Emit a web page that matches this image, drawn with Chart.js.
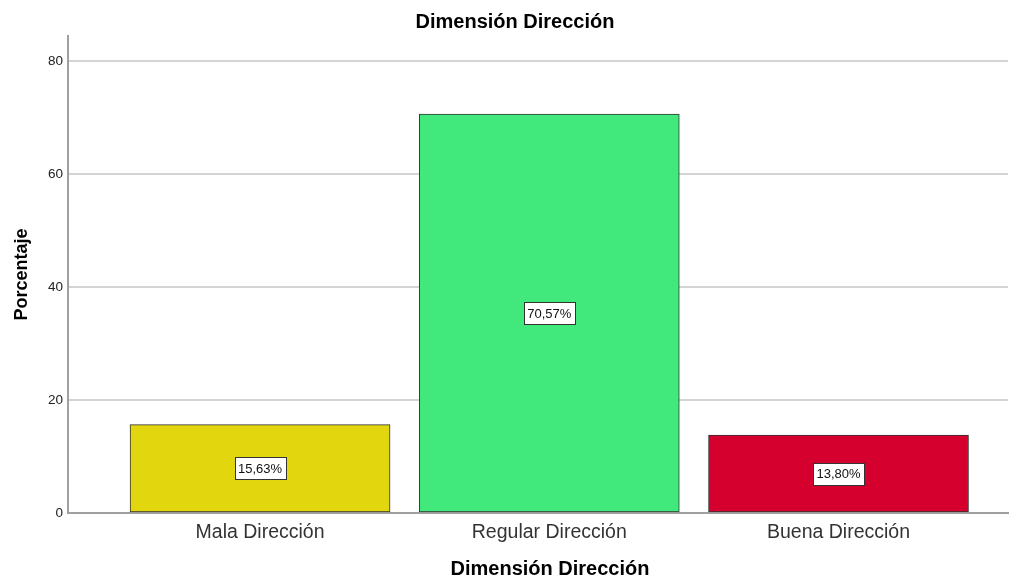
<!DOCTYPE html>
<html>
<head>
<meta charset="utf-8">
<script src="https://cdn.jsdelivr.net/npm/chart.js@4.4.0/dist/chart.umd.min.js"></script>
<style>
  body { margin: 0; background: #fff; }
  canvas { display: block; }
</style>
</head>
<body>
<canvas id="chart" width="1019" height="580"></canvas>
<script>
let categories = ['Mala Dirección', 'Regular Dirección', 'Buena Dirección'];
let percentages = [15.63, 70.57, 13.80];
let barColors = ['#e2d60e', '#41e97d', '#d6002f'];
let yTicks = [0, 20, 40, 60, 80];
let chartTitle = 'Dimensión Dirección';
let xTitle = 'Dimensión Dirección';
let yTitle = 'Porcentaje';

let ctx = document.getElementById('chart').getContext('2d');
let fontFamily = "'Liberation Sans', Arial, sans-serif";

// draws the white value boxes in the middle of every bar
let valueLabels = {
    id: 'valueLabels',
    afterDatasetsDraw(chart) {
        let c = chart.ctx;
        let meta = chart.getDatasetMeta(0);
        c.save();
        c.font = '13px ' + fontFamily;
        c.textAlign = 'center';
        c.textBaseline = 'middle';
        meta.data.forEach(function (bar, i) {
            let text = percentages[i].toFixed(2).replace('.', ',') + '%';
            let cx = bar.x;
            let cy = (bar.y + bar.base) / 2;
            let w = Math.round(c.measureText(text).width + 7);
            let h = 22;
            let left = Math.round(cx - w / 2) + 0.5;
            let top = Math.round(cy - h / 2) + 0.5;
            c.fillStyle = '#ffffff';
            c.fillRect(left, top, w, h);
            c.strokeStyle = '#333333';
            c.lineWidth = 1;
            c.strokeRect(left, top, w, h);
            c.fillStyle = '#111111';
            c.fillText(text, cx, cy + 1);
        });
        c.restore();
    }
};

// the reference centres the title on the whole picture, and the x title a bit right of the plot centre
let titles = {
    id: 'titles',
    afterLayout(chart) {
        if (chart.titleBlock) {
            chart.titleBlock.left += 11;
            chart.titleBlock.right += 11;
        }
    },
    afterDraw(chart) {
        let c = chart.ctx;
        let area = chart.chartArea;
        c.save();
        c.font = 'bold 20px ' + fontFamily;
        c.fillStyle = '#000000';
        c.textAlign = 'center';
        c.textBaseline = 'alphabetic';
        c.fillText(xTitle, (area.left + area.right) / 2 + 12, 575);
        c.restore();
    }
};

let myChart = new Chart(ctx, {
    type: 'bar',
    data: {
        datasets: [{
            data: percentages.map(function (v, i) { return { x: i, y: v }; }),
            backgroundColor: barColors,
            borderColor: '#333333',
            borderWidth: 1,
            borderSkipped: false,
            barThickness: 260
        }]
    },
    options: {
        responsive: false,
        animation: false,
        layout: { padding: { left: 0, right: 11, top: 0, bottom: 0 }, autoPadding: false },
        plugins: {
            legend: { display: false },
            tooltip: { enabled: false },
            title: {
                display: true,
                text: chartTitle,
                color: '#000000',
                font: { family: fontFamily, size: 20, weight: 'bold' },
                padding: { top: 10, bottom: 2 }
            }
        },
        scales: {
            x: {
                type: 'linear',
                offset: false,
                min: -0.664,
                max: 2.586,
                afterBuildTicks: function (scale) {
                    scale.ticks = categories.map(function (c, i) { return { value: i }; });
                },
                afterFit: function (scale) { scale.height = 67; },
                grid: { display: false, drawTicks: false, offset: false },
                border: { display: true, color: '#a0a0a0', width: 2 },
                ticks: {
                    padding: 8,
                    color: '#333333',
                    font: { family: fontFamily, size: 19.5 },
                    maxRotation: 0,
                    autoSkip: false,
                    callback: function (value) { return categories[value]; }
                },
                title: { display: false }
            },
            y: {
                min: 0,
                max: 84.4,
                afterBuildTicks: function (scale) {
                    scale.ticks = yTicks.map(function (v) { return { value: v }; });
                },
                afterFit: function (scale) { scale.width = 68; },
                grid: { color: '#d4d4d4', lineWidth: 2, drawTicks: false },
                border: { display: true, color: '#a0a0a0', width: 2 },
                ticks: {
                    padding: 5,
                    color: '#222222',
                    font: { family: fontFamily, size: 13.5 }
                },
                title: {
                    display: true,
                    text: yTitle,
                    color: '#000000',
                    font: { family: fontFamily, size: 18, weight: 'bold' },
                    padding: { top: 11, bottom: 0 }
                }
            }
        }
    },
    plugins: [valueLabels, titles]
});
</script>
</body>
</html>
